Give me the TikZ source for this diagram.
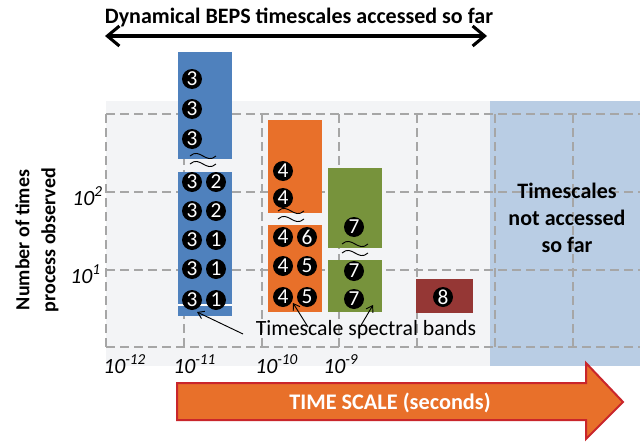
\documentclass[tikz,border=0pt]{standalone}
\usepackage{fontspec}
\setmainfont{Carlito}
\usetikzlibrary{arrows.meta}
\definecolor{bggray}{HTML}{F3F4F6}
\definecolor{bgblue}{HTML}{B9CDE4}
\definecolor{gridgray}{HTML}{A6A6A6}
\definecolor{barblue}{HTML}{4F81BD}
\definecolor{barorange}{HTML}{E8702A}
\definecolor{bargreen}{HTML}{77933C}
\definecolor{barred}{HTML}{953735}
\definecolor{arrowred}{HTML}{C9262B}
\tikzset{
  gridline/.style={draw=gridgray, line width=1.5pt, dash pattern=on 6.5pt off 4pt},
  numc/.style={circle, fill=black, text=white, inner sep=0pt, minimum size=15pt, font=\fontsize{16}{16}\selectfont},
  wave/.style={draw=black, line width=0.7pt},
  thinarrow/.style={draw=black, line width=0.7pt, -{Straight Barb[length=4.5pt,width=6pt]}},
  lbl/.style={inner sep=0pt, font=\fontsize{16.3}{18}\selectfont},
  axlbl/.style={inner sep=0pt, anchor=base west, font=\itshape\fontsize{16.3}{18}\selectfont},
}
\begin{document}
\begin{tikzpicture}[x=0.75pt,y=-0.75pt]
\useasboundingbox (0,0) rectangle (640,443);
% panels
\fill[bggray] (106,101) rectangle (490,366);
\fill[bgblue] (490,101) rectangle (640,366);
% grid
\foreach \yy in {114,192,270,347} \draw[gridline] (106,\yy) -- (640,\yy);
\foreach \xx in {106,184,262,339,417,495,573} \draw[gridline] (\xx,114) -- (\xx,347);
% bars
\fill[barblue] (178,52) rectangle (232,159);
\fill[barblue] (178,172) rectangle (232,316);
\draw[white, line width=0.8pt] (178,305) -- (232,305);
\fill[barorange] (268,120) rectangle (322,213);
\fill[barorange] (268,225) rectangle (322,312);
\fill[bargreen] (328,168) rectangle (382,248);
\fill[bargreen] (328,260) rectangle (382,312);
\fill[barred] (416,279) rectangle (473,313);
% waves
\foreach \wx/\wy in {190/156,190/164,278/211,278/219,342/244,342/253}
  \draw[wave] (\wx,\wy) .. controls +(10,-9) and +(-10,9) .. +(26,0);
% numbers blue
\node[numc] (b1) at (192,79) {3};
\node[numc] (b2) at (192,109) {3};
\node[numc] (b3) at (192,139) {3};
\node[numc] (b4) at (192,182) {3};
\node[numc] (b5) at (216,182) {2};
\node[numc] (b6) at (192,211) {3};
\node[numc] (b7) at (216,211) {2};
\node[numc] (b8) at (192,240) {3};
\node[numc] (b9) at (216,240) {1};
\node[numc] (b10) at (192,269) {3};
\node[numc] (b11) at (216,269) {1};
\node[numc] (b12) at (192,300) {3};
\node[numc] (b13) at (216,300) {1};
% numbers orange
\node[numc] (o1) at (283,171) {4};
\node[numc] (o2) at (283,198) {4};
\node[numc] (o3) at (283,237) {4};
\node[numc] (o4) at (307,237) {6};
\node[numc] (o5) at (283,266) {4};
\node[numc] (o6) at (307,266) {5};
\node[numc] (o7) at (283,297) {4};
\node[numc] (o8) at (307,297) {5};
% numbers green
\node[numc] (g1) at (354,227) {7};
\node[numc] (g2) at (354,271) {7};
\node[numc] (g3) at (354,299) {7};
% red
\node[numc] (r1) at (443,297) {8};
% label and arrows
\node[lbl, anchor=base] (sb) at (366,335) {Timescale spectral bands};
\coordinate (s1) at (243,334);
\coordinate (e1) at (197,312);
\coordinate (s2) at (308,327);
\coordinate (e2) at (293,303);
\coordinate (s3) at (360,327);
\coordinate (e3) at (373,305);
\draw[thinarrow] (s1) -- (e1);
\draw[thinarrow] (s2) -- (e2);
\draw[thinarrow] (s3) -- (e3);
% title and arrow
\node[inner sep=0pt, anchor=base, font=\bfseries\fontsize{16.5}{18}\selectfont] (title) at (299,23) {Dynamical BEPS timescales accessed so far};
\coordinate (tl) at (105,36);
\coordinate (tr) at (487,36);
\draw[line width=2.3pt, {Straight Barb[length=9pt,width=15pt]}-{Straight Barb[length=9pt,width=15pt]}] (tl) -- (tr);
% y axis
\node[rotate=90, align=center, inner sep=0pt, font=\bfseries\fontsize{15}{19.5}\selectfont] (ytitle) at (37,240) {Number of times\\process observed};
\node[axlbl] (y2) at (72,205) {10\textsuperscript{2}};
\node[axlbl] (y1) at (70,283) {10\textsuperscript{1}};
% x axis
\node[axlbl] (x12) at (103,373) {10\textsuperscript{-12}};
\node[axlbl] (x11) at (173,373) {10\textsuperscript{-11}};
\node[axlbl] (x10) at (255,373) {10\textsuperscript{-10}};
\node[axlbl] (x9) at (323,373) {10\textsuperscript{-9}};
% not accessed
\node[align=center, inner sep=0pt, font=\bfseries\fontsize{16.5}{20}\selectfont] (na) at (567,218) {Timescales\\not accessed\\so far};
% big arrow
\draw[fill=barorange, draw=arrowred, line width=1.5pt, line join=miter] (177,383) -- (586,383) -- (586,363) -- (623,402) -- (586,439) -- (586,420) -- (177,420) -- cycle;
\node[inner sep=0pt, anchor=base, text=white, font=\bfseries\fontsize{16.7}{18}\selectfont] (ts) at (390,409) {TIME SCALE (seconds)};
\end{tikzpicture}
\end{document}
